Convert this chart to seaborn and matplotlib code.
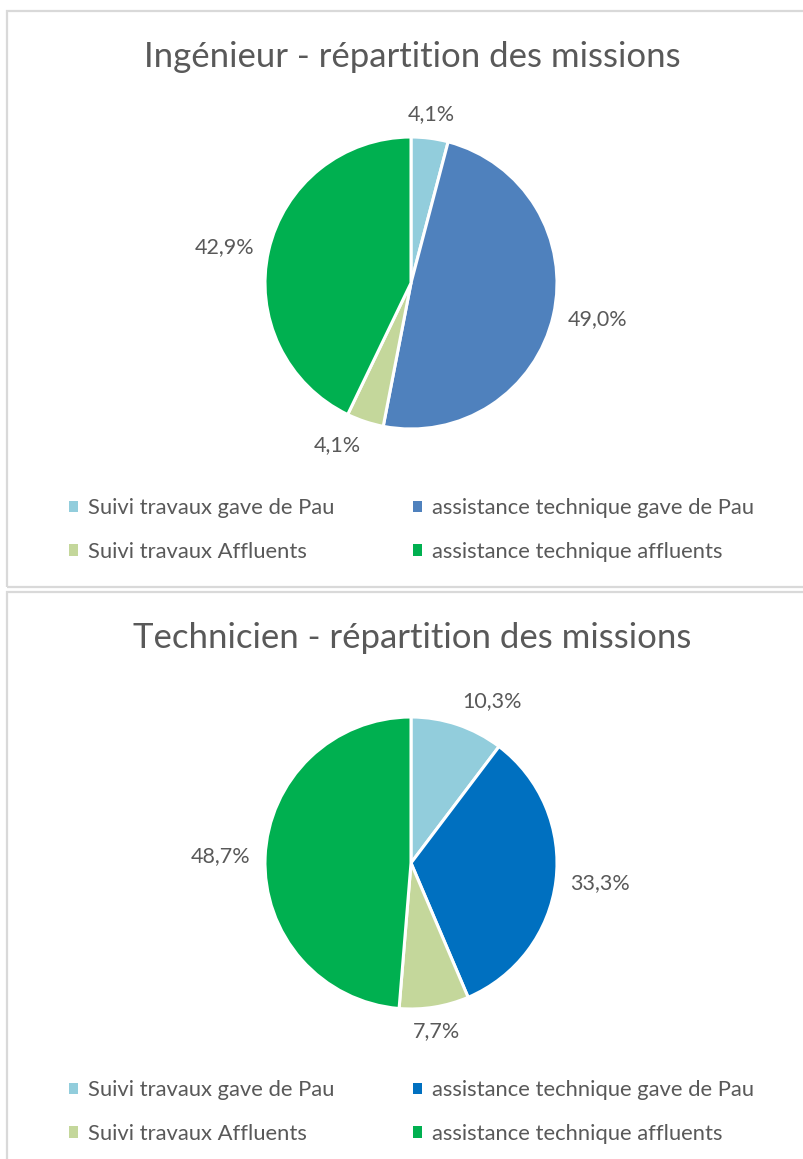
import numpy as np
import matplotlib
matplotlib.use("Agg")
import matplotlib.pyplot as plt
from matplotlib.patches import Rectangle, Patch
import seaborn as sns

sns.set_theme(style="white")
plt.rcParams['font.family'] = ['Lato', 'DejaVu Sans']

categories = ["Suivi travaux gave de Pau", "assistance technique gave de Pau",
              "Suivi travaux Affluents", "assistance technique affluents"]
ing_values = [4.1, 49.0, 4.1, 42.9]
tech_values = [10.3, 33.3, 7.7, 48.7]
ing_labels = ["4,1%", "49,0%", "4,1%", "42,9%"]
tech_labels = ["10,3%", "33,3%", "7,7%", "48,7%"]
ing_colors = ["#92CDDC", "#4F81BD", "#C4D79B", "#00B050"]
tech_colors = ["#92CDDC", "#0070C0", "#C4D79B", "#00B050"]
titles = ["Ingénieur - répartition des missions", "Technicien - répartition des missions"]

W, H = 804, 1159
fig = plt.figure(figsize=(W / 100, H / 100), dpi=100)
fig.patch.set_facecolor("white")

def fx(x): return x / W
def fy(y): return 1 - y / H

# panel borders
for (x0, y0, x1, y1) in [(7, 11, 812, 587), (7, 592, 812, 1170)]:
    fig.add_artist(Rectangle((fx(x0), fy(y1)), fx(x1 - x0), (y1 - y0) / H,
                             transform=fig.transFigure, fill=False,
                             edgecolor="#d9d9d9", linewidth=1.6, clip_on=False))

text_col = "#595959"
order = [0, 2, 1, 3]  # row-wise legend order for 2 columns

def draw(values, labels, colors, title, cy, ty, leg_y):
    r = 146
    cx = 411
    ax = fig.add_axes([fx(cx - r), fy(cy + r), 2 * r / W, 2 * r / H])
    wedges, texts = ax.pie(values, colors=colors, startangle=90, counterclock=False,
                           labels=labels, labeldistance=1.1,
                           wedgeprops=dict(edgecolor="white", linewidth=2.2),
                           textprops=dict(fontsize=15.5, color=text_col))
    ax.set_xlim(-1, 1)
    ax.set_ylim(-1, 1)
    ax.set_aspect("equal")
    for t in texts:
        t.set_clip_on(False)
        x, y = t.get_position()
        n = np.hypot(x, y)
        ux, uy = x / n, y / n
        if ux > 0.2:
            t.set_ha("left")
        elif ux < -0.2:
            t.set_ha("right")
        else:
            t.set_ha("center")
        if uy > 0.5:
            t.set_va("bottom")
        elif uy < -0.5:
            t.set_va("top")
        else:
            t.set_va("center")
    fig.text(fx(412), fy(ty), title, ha="center", va="center",
             fontsize=25, color=text_col)
    handles = [Patch(facecolor=colors[i], edgecolor="none") for i in order]
    labs = [categories[i] for i in order]
    fig.legend(handles, labs, ncol=2, loc="center left",
               bbox_to_anchor=(fx(69), fy(leg_y)), frameon=False,
               fontsize=15.8, handlelength=0.4, handleheight=0.4,
               handletextpad=0.45, columnspacing=3.6, labelspacing=1.08,
               labelcolor=text_col, borderaxespad=0, borderpad=0)
    return ax

draw(ing_values, ing_labels, ing_colors, titles[0], 283, 57, 530)
draw(tech_values, tech_labels, tech_colors, titles[1], 863, 638, 1112)

fig.savefig("out.png", dpi=100, facecolor="white")
